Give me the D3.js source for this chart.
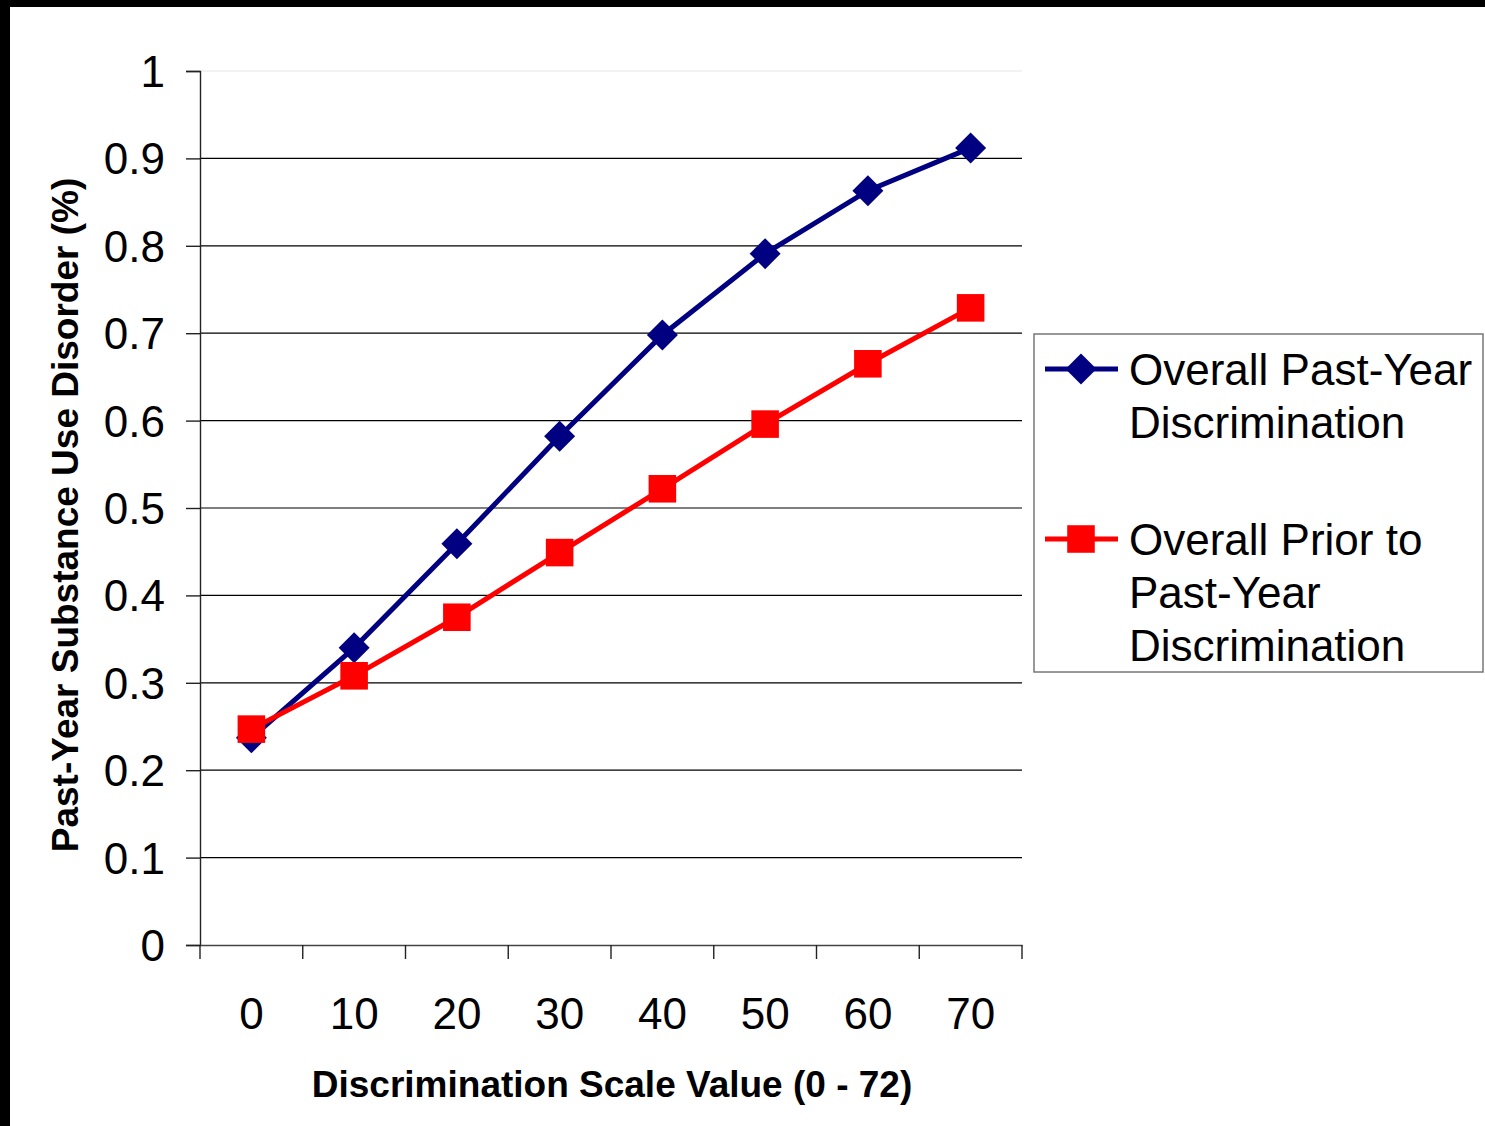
<!DOCTYPE html>
<html>
<head>
<meta charset="utf-8">
<script src="https://cdn.jsdelivr.net/npm/d3@7"></script>
<style>
  html, body { margin: 0; padding: 0; background: #000; }
  #chart { width: 1485px; height: 1126px; }
  svg { display: block; }
</style>
</head>
<body>
<div id="chart"></div>
<script>
const categories = ['0', '10', '20', '30', '40', '50', '60', '70'];
const pastYear = [0.237, 0.340, 0.459, 0.582, 0.698, 0.791, 0.863, 0.912];
const priorPastYear = [0.247, 0.308, 0.375, 0.449, 0.522, 0.596, 0.665, 0.729];
const yTicks = [0, 0.1, 0.2, 0.3, 0.4, 0.5, 0.6, 0.7, 0.8, 0.9, 1];
const seriesNames = [
  ['Overall Past-Year', 'Discrimination'],
  ['Overall Prior to', 'Past-Year', 'Discrimination']
];

function renderChart(containerSelector) {
  const container = d3.select(containerSelector);
  const width = 1485, height = 1126;
  const font = 'Liberation Sans, Arial, sans-serif';

  const svg = container.append('svg')
    .attr('width', width)
    .attr('height', height);

  // white page with black edge top/left
  svg.append('rect')
    .attr('x', 10).attr('y', 7)
    .attr('width', width - 10).attr('height', height - 7)
    .attr('fill', '#fff');

  const x = d3.scaleBand()
    .domain(categories)
    .range([200, 1022])
    .padding(0);

  const y = d3.scaleLinear()
    .domain([0, 1])
    .range([945, 71]);

  const cx = d => x(d) + x.bandwidth() / 2;

  // Gridlines
  svg.append('g')
    .selectAll('line')
    .data(yTicks.filter(t => t > 0))
    .join('line')
    .attr('x1', 200).attr('x2', 1022)
    .attr('y1', d => y(d)).attr('y2', d => y(d))
    .attr('stroke', d => d === 1 ? '#e6e6e6' : '#000')
    .attr('stroke-width', 1.2);

  // Y axis
  const yAxis = svg.append('g')
    .attr('transform', 'translate(200,0)')
    .call(d3.axisLeft(y).tickValues(yTicks).tickSize(14).tickPadding(21)
      .tickFormat(d => d3.format('')(+d.toFixed(1))));
  yAxis.select('.domain').attr('stroke', '#222').attr('stroke-width', 1.4);
  yAxis.selectAll('.tick line').attr('stroke', '#222').attr('stroke-width', 1.4);
  yAxis.selectAll('text')
    .style('font-family', font)
    .style('font-size', '44px')
    .attr('fill', '#000')
    .attr('dy', '0.35em');

  // X axis
  const xAxis = svg.append('g')
    .attr('transform', 'translate(0,945)')
    .call(d3.axisBottom(x).tickSize(0).tickPadding(53));
  xAxis.select('.domain').attr('stroke', '#444').attr('stroke-width', 1.4);
  xAxis.selectAll('text')
    .style('font-family', font)
    .style('font-size', '44px')
    .attr('fill', '#000');

  // X ticks at band edges
  const edges = categories.map(c => x(c)).concat([x.range()[1]]);
  svg.append('g')
    .selectAll('line')
    .data(edges)
    .join('line')
    .attr('x1', d => d).attr('x2', d => d)
    .attr('y1', 945).attr('y2', 959)
    .attr('stroke', '#222')
    .attr('stroke-width', 1.4);

  // Axis titles
  svg.append('text')
    .attr('x', 612).attr('y', 1097)
    .attr('text-anchor', 'middle')
    .style('font-family', font)
    .style('font-size', '37px')
    .style('font-weight', 'bold')
    .text('Discrimination Scale Value (0 - 72)');

  svg.append('text')
    .attr('transform', 'translate(78,515) rotate(-90)')
    .attr('text-anchor', 'middle')
    .style('font-family', font)
    .style('font-size', '37px')
    .style('font-weight', 'bold')
    .text('Past-Year Substance Use Disorder (%)');

  const line = d3.line()
    .x((d, i) => cx(categories[i]))
    .y(d => y(d));

  const diamond = d3.symbol().type(d3.symbolSquare).size(480);
  const square = d3.symbol().type(d3.symbolSquare).size(760);

  // Past-year series (blue diamonds)
  svg.append('path')
    .datum(pastYear)
    .attr('d', line)
    .attr('fill', 'none')
    .attr('stroke', '#000080')
    .attr('stroke-width', 5);
  svg.append('g')
    .selectAll('path')
    .data(pastYear)
    .join('path')
    .attr('d', diamond)
    .attr('transform', (d, i) => `translate(${cx(categories[i])},${y(d)}) rotate(45)`)
    .attr('fill', '#000080');

  // Prior series (red squares)
  svg.append('path')
    .datum(priorPastYear)
    .attr('d', line)
    .attr('fill', 'none')
    .attr('stroke', '#ff0000')
    .attr('stroke-width', 5);
  svg.append('g')
    .selectAll('path')
    .data(priorPastYear)
    .join('path')
    .attr('d', square)
    .attr('transform', (d, i) => `translate(${cx(categories[i])},${y(d)})`)
    .attr('fill', '#ff0000');

  // Legend
  const legend = svg.append('g');
  legend.append('rect')
    .attr('x', 1034).attr('y', 334)
    .attr('width', 449).attr('height', 338)
    .attr('fill', '#fff')
    .attr('stroke', '#777')
    .attr('stroke-width', 1.5);

  const legendItems = [
    { lines: seriesNames[0], color: '#000080', sym: diamond, rot: 45, y: 369 },
    { lines: seriesNames[1], color: '#ff0000', sym: square, rot: 0, y: 539 }
  ];
  legendItems.forEach(item => {
    legend.append('line')
      .attr('x1', 1045).attr('x2', 1118)
      .attr('y1', item.y).attr('y2', item.y)
      .attr('stroke', item.color)
      .attr('stroke-width', 5);
    legend.append('path')
      .attr('d', item.sym)
      .attr('transform', `translate(1081,${item.y}) rotate(${item.rot})`)
      .attr('fill', item.color);
    const t = legend.append('text')
      .attr('x', 1129)
      .attr('y', item.y + 16)
      .style('font-family', font)
      .style('font-size', '44px')
      .attr('fill', '#000');
    item.lines.forEach((s, i) => {
      t.append('tspan')
        .attr('x', 1129)
        .attr('dy', i === 0 ? 0 : 53)
        .text(s);
    });
  });
}

renderChart('#chart');
</script>
</body>
</html>
